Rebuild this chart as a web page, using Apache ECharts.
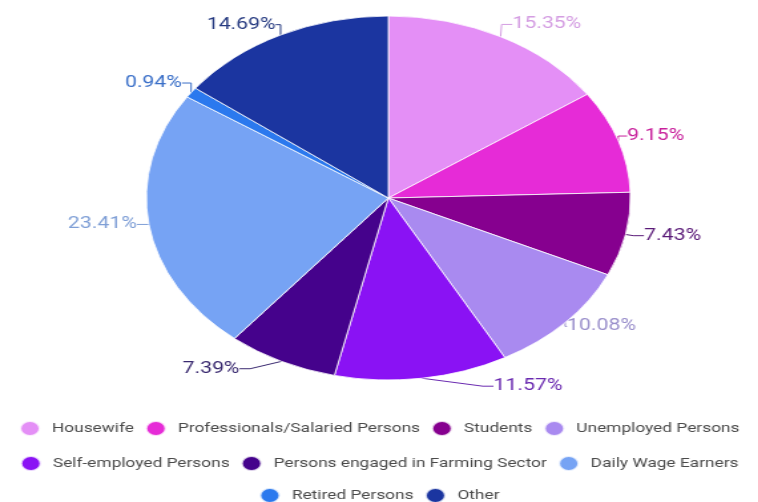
<!DOCTYPE html>
<html>
<head>
<meta charset="utf-8">
<script src="https://cdn.jsdelivr.net/npm/echarts@6/dist/echarts.min.js"></script>
<style>
  html, body { margin: 0; padding: 0; background: #fff; overflow: hidden; }
  /* reference is stretched horizontally, so draw narrow and scale */
  #chart {
    width: 570px;
    height: 502px;
    transform: scaleX(1.33);
    transform-origin: left top;
  }
</style>
</head>
<body>
<div id="chart"></div>
<script>
const categories = [
  'Housewife',
  'Professionals/Salaried Persons',
  'Students',
  'Unemployed Persons',
  'Self-employed Persons',
  'Persons engaged in Farming Sector',
  'Daily Wage Earners',
  'Retired Persons',
  'Other'
]
const shares = [15.35, 9.15, 7.43, 10.08, 11.57, 7.39, 23.41, 0.94, 14.69]
const colors = [
  '#e48ff6', '#e62bd7', '#86008f', '#a98af0', '#8a12f4',
  '#45028c', '#76a3f4', '#2b79ee', '#1b35a0'
]
const labelColors = [
  '#d49de2', '#c8209c', '#5a1a78', '#9a8fcb', '#6a2ab0',
  '#3a2a70', '#7f9fd6', '#3a6fc8', '#263a80'
]
const legendRows = [categories.slice(0, 4), categories.slice(4, 7), categories.slice(7)]

const chart = echarts.init(document.getElementById('chart'))

// small nudges so labels sit where the reference has them
const labelNudge = [
  [-7, -7], [-12, -3], [-5, 0], [-16, 0], [40, 2],
  [-16, 2], [10, -1], [11, -6], [12, -5]
]

const pieData = categories.map((name, i) => ({
  name,
  value: shares[i],
  itemStyle: { color: colors[i] },
  label: { color: labelColors[i] },
  labelLine: { lineStyle: { color: labelColors[i] } }
}))

chart.setOption({
  animation: false,
  legend: legendRows.map((row, i) => ({
    data: row,
    top: [415, 450, 482][i],
    left: 'center',
    icon: 'circle',
    itemWidth: 15,
    itemHeight: 15,
    itemGap: 8,
    textStyle: {
      fontFamily: 'Roboto',
      fontSize: 13,
      color: '#4a4a4a',
      padding: [0, 0, 0, 4]
    }
  })),
  series: [{
    type: 'pie',
    center: [292, 198],
    radius: 182,
    startAngle: 90,
    clockwise: true,
    data: pieData,
    itemStyle: {
      borderColor: 'rgba(255,255,255,0.8)',
      borderWidth: 1
    },
    label: {
      show: true,
      formatter: p => p.value.toFixed(2) + '%',
      fontFamily: 'Roboto',
      fontSize: 16
    },
    labelLine: {
      show: true,
      length: 6,
      length2: 8,
      lineStyle: { width: 1 }
    },
    labelLayout: p => {
      const [dx, dy] = labelNudge[p.dataIndex]
      return {
        x: p.labelRect.x + dx,
        y: p.labelRect.y + dy,
        align: 'left',
        verticalAlign: 'top'
      }
    }
  }]
})
</script>
</body>
</html>
